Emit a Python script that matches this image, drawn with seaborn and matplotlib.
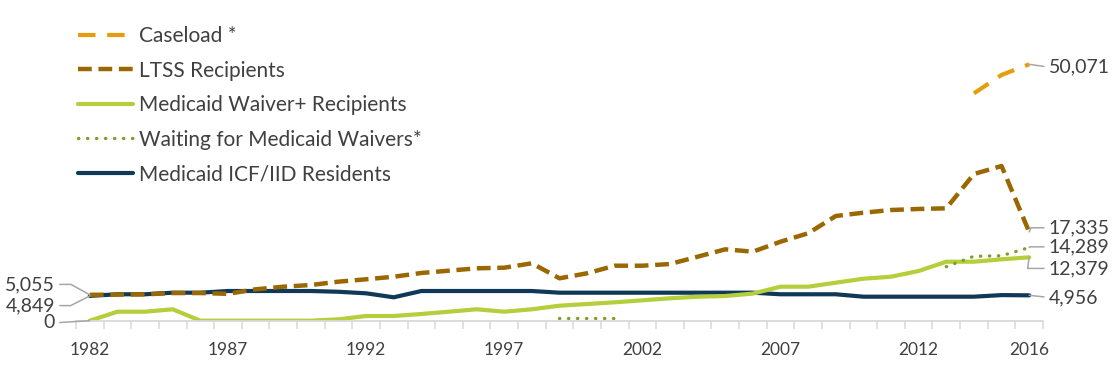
import matplotlib
matplotlib.use("Agg")
import matplotlib.pyplot as plt
import numpy as np
import seaborn as sns

# ---- data ----
years = list(range(1982, 2017))

caseload_years = [2014, 2015, 2016]
caseload = [44400, 48000, 50071]

ltss = [5055, 5100, 5150, 5400, 5400, 5250, 6130, 6640, 6970, 7620,
        8090, 8590, 9320, 9770, 10230, 10350, 11210, 8280, 9260, 10740,
        10740, 11070, 12500, 13940, 13480, 15430, 17070, 20450, 21090, 21620,
        21820, 21950, 28650, 30210, 17335]

waiver = [0, 1760, 1760, 2230, 0, 0, 0, 0, 0, 270,
          920, 920, 1310, 1760, 2230, 1760, 2230, 2930, 3260, 3590,
          3980, 4380, 4690, 4820, 5300, 6640, 6640, 7420, 8200, 8590,
          9710, 11520, 11520, 11990, 12379]

waiting_early_years = [1999, 2000, 2001]
waiting_early = [470, 470, 470]
waiting_late_years = [2013, 2014, 2015, 2016]
waiting_late = [10550, 12580, 12690, 14289]

icf = [4849, 5160, 5160, 5470, 5470, 5800, 5800, 5800, 5800, 5650,
       5350, 4570, 5800, 5800, 5800, 5800, 5800, 5470, 5470, 5470,
       5470, 5470, 5470, 5470, 5470, 5160, 5160, 5160, 4690, 4690,
       4690, 4690, 4690, 5000, 4956]

year_ticks = [1982, 1987, 1992, 1997, 2002, 2007, 2012, 2016]

# ---- style ----
C_CASE = "#E59E0B"
C_LTSS = "#9A6700"
C_WAIVER = "#B4CE3C"
C_WAIT = "#7E9E2B"
C_ICF = "#0F3956"
TEXT = "#404040"
GRID = "#D9D9D9"
LEADER = "#A6A6A6"

sns.set_theme(style="white")
plt.rcParams["font.family"] = ["Lato", "DejaVu Sans"]

fig = plt.figure(figsize=(11.12, 3.65), dpi=100)
ax = fig.add_axes([76 / 1112, 44.3 / 365, 967 / 1112, 310.7 / 365])

lw = 3.0
sns.lineplot(x=years, y=icf, ax=ax, color=C_ICF, lw=lw,
             label="Medicaid ICF/IID Residents")
sns.lineplot(x=years, y=waiver, ax=ax, color=C_WAIVER, lw=lw,
             label="Medicaid Waiver+ Recipients")
sns.lineplot(x=waiting_early_years, y=waiting_early, ax=ax, color=C_WAIT,
             lw=2.4, linestyle=(0, (0.1, 2.6)), dash_capstyle="round",
             label="Waiting for Medicaid Waivers*")
sns.lineplot(x=waiting_late_years, y=waiting_late, ax=ax, color=C_WAIT,
             lw=2.4, linestyle=(0, (0.1, 2.6)), dash_capstyle="round")
sns.lineplot(x=years, y=ltss, ax=ax, color=C_LTSS, lw=3.2,
             linestyle=(0, (3.1, 1.5)), label="LTSS Recipients")
sns.lineplot(x=caseload_years, y=caseload, ax=ax, color=C_CASE, lw=3.0,
             linestyle=(0, (4.2, 2.8)), label="Caseload *")

ax.set_xlim(1981.5, 2016.5)
ax.set_ylim(0, 60680)
ax.set_xlabel("")
ax.set_ylabel("")
ax.set_yticks([])
for side in ("left", "right", "top"):
    ax.spines[side].set_visible(False)
ax.spines["bottom"].set_color(GRID)
ax.spines["bottom"].set_linewidth(1.3)

ax.set_xticks(year_ticks)
ax.set_xticklabels([str(y) for y in year_ticks], fontsize=12.5, color=TEXT)
ax.set_xticks(np.arange(1981.5, 2017, 1), minor=True)
ax.tick_params(axis="x", which="major", length=0, pad=15)
ax.tick_params(axis="x", which="minor", bottom=True, length=5.5,
               width=1.1, color=GRID, direction="out")

# legend in the reference order
handles, labels = ax.get_legend_handles_labels()
order = ["Caseload *", "LTSS Recipients", "Medicaid Waiver+ Recipients",
         "Waiting for Medicaid Waivers*", "Medicaid ICF/IID Residents"]
hmap = dict(zip(labels, handles))
leg = ax.legend([hmap[k] for k in order], order, loc="upper left",
                bbox_to_anchor=(78 / 1112, 1 - 26 / 365),
                bbox_transform=fig.transFigure, frameon=False,
                fontsize=15, handlelength=2.65, handletextpad=0.28,
                labelspacing=0.7, borderpad=0, borderaxespad=0)
for t in leg.get_texts():
    t.set_color(TEXT)

# data labels with leader lines
def label(x, y, text, dx, dy, ha, angle=None):
    props = dict(arrowstyle="-", color=LEADER, lw=1.1, shrinkA=1, shrinkB=0,
                 relpos=(1, 0.5) if ha == "right" else (0, 0.5))
    if angle is not None:
        props["connectionstyle"] = f"angle,angleA=0,angleB={angle},rad=0"
    ax.annotate(text, xy=(x, y), xytext=(dx, dy), textcoords="offset points",
                ha=ha, va="center", fontsize=14, color=TEXT,
                arrowprops=props)

label(years[0], ltss[0], f"{ltss[0]:,}", -25, 7.5, "right", angle=-29)
label(years[0], icf[0], f"{icf[0]:,}", -25, -7, "right", angle=27)
label(years[0], waiver[0], f"{waiver[0]:,}", -25, -1.5, "right")

label(caseload_years[-1], caseload[-1], f"{caseload[-1]:,}", 14, -2, "left")
label(years[-1], ltss[-1], f"{ltss[-1]:,}", 14, 3, "left", angle=67)
label(waiting_late_years[-1], waiting_late[-1], f"{waiting_late[-1]:,}",
      14, 0.5, "left", angle=53)
label(years[-1], waiver[-1], f"{waiver[-1]:,}", 14, -8, "left", angle=82)
label(years[-1], icf[-1], f"{icf[-1]:,}", 14, -1.5, "left")

fig.savefig("out.png", dpi=100)
